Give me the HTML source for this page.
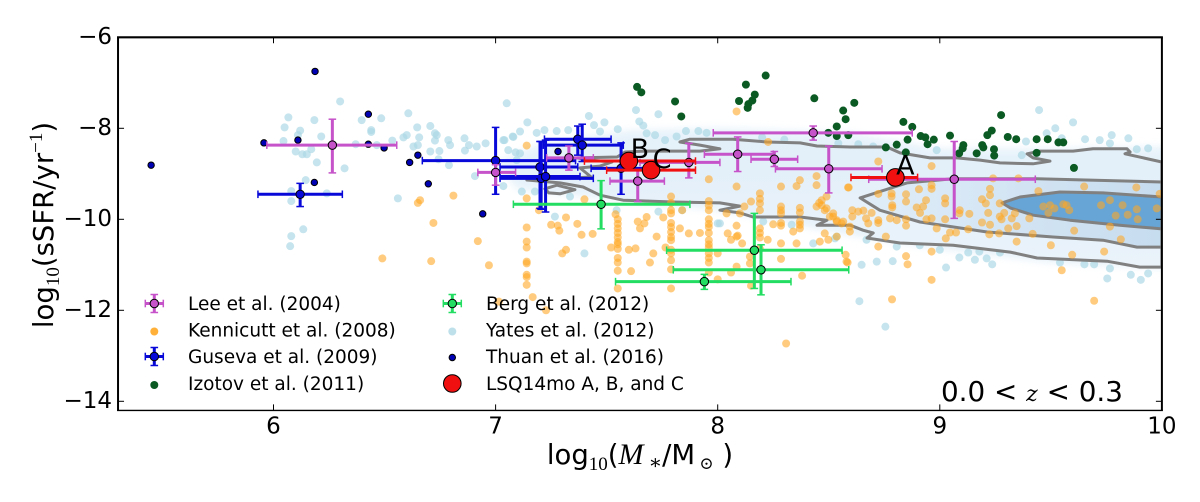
<!DOCTYPE html>
<html>
<head>
<meta charset="utf-8">
<title>sSFR vs stellar mass</title>
<style>
html,body{margin:0;padding:0;background:#fff;width:1200px;height:502px;overflow:hidden}
svg{display:block}
text{font-family:"DejaVu Sans","Liberation Sans",sans-serif;fill:#000}
.cm{font-family:"Liberation Serif","DejaVu Serif",serif}
</style>
</head>
<body>
<svg id="chart" xmlns="http://www.w3.org/2000/svg" width="1200" height="502" viewBox="0 0 1200 502">
<defs>
<clipPath id="plot-clip"><rect x="118" y="37" width="1044" height="373"/></clipPath>
<filter id="soft" x="-10%" y="-20%" width="120%" height="140%"><feGaussianBlur stdDeviation="4"/></filter>
<linearGradient id="outer-grad" x1="0" y1="0" x2="0" y2="1"><stop offset="0" stop-color="#e2eff9"/><stop offset="1" stop-color="#eaf3fa"/></linearGradient>
<linearGradient id="mid-grad" x1="0" y1="0" x2="1" y2="0"><stop offset="0" stop-color="#e0edf8"/><stop offset="1" stop-color="#c6dcef"/></linearGradient>
</defs>
<g id="marks" clip-path="url(#plot-clip)"></g>
<g id="axes"></g>
<text transform="translate(53,225) rotate(-90)" text-anchor="middle" font-size="27.5">log<tspan class="cm" font-size="19" dy="6">10</tspan><tspan dy="-6">(sSFR/yr</tspan><tspan class="cm" font-size="19" dy="-11">−1</tspan><tspan dy="11">)</tspan></text>
<text x="640" y="464" text-anchor="middle" font-size="27.5">log<tspan class="cm" font-size="19" dy="6">10</tspan><tspan dy="-6">(</tspan><tspan class="cm" font-style="italic" font-size="30">M</tspan><tspan class="cm" font-size="20" dy="5"> ∗</tspan><tspan dy="-5">/M</tspan><tspan class="cm" font-size="17" dy="5"> ⊙</tspan><tspan dy="-5"> )</tspan></text>
<text x="941" y="401" font-size="27.8">0.0 &lt; <tspan style="font-family:'DejaVu Serif','Liberation Serif',serif;font-style:italic" font-size="22">z</tspan> &lt; 0.3</text>
<g id="legend"></g>
</svg>
<script>
// ---------- axis ticks ----------
const xTicks = [6, 7, 8, 9, 10];
const yTicks = [-6, -8, -10, -12, -14];
const xLim = [5.3, 10];
const yLim = [-14.2, -6];

// ---------- contour levels (log M, log sSFR) ----------
const densityHaze = [[7.0,-8.75],[7.2,-8.35],[7.6,-8.05],[8.0,-8.0],[8.6,-8.1],[9.0,-8.45],[9.5,-8.45],[10.1,-8.4],[10.1,-11.1],[9.5,-10.95],[9,-10.65],[8.6,-10.35],[8,-9.8],[7.4,-9.5],[7.1,-9.35]];
const contourOuter = [[7.141,-9.136],[7.222,-9.07],[7.357,-9.09],[7.43,-9.07],[7.38,-8.87],[7.47,-8.83],[7.524,-8.74],[7.425,-8.70],[7.367,-8.65],[7.547,-8.63],[7.583,-8.52],[7.673,-8.50],[7.92,-8.50],[8.01,-8.45],[7.92,-8.37],[7.83,-8.30],[7.875,-8.24],[8.069,-8.24],[8.222,-8.30],[8.371,-8.32],[8.447,-8.39],[8.596,-8.41],[8.654,-8.41],[8.762,-8.41],[8.821,-8.54],[8.956,-8.65],[9.077,-8.65],[9.181,-8.70],[9.271,-8.76],[9.42,-8.78],[9.496,-8.72],[9.42,-8.65],[9.393,-8.56],[9.451,-8.50],[9.6,-8.50],[9.69,-8.45],[9.843,-8.45],[9.857,-8.52],[9.834,-8.56],[10,-8.74],[10,-11.05],[9.90,-11.05],[9.753,-10.92],[9.438,-10.85],[9.317,-10.72],[9.06,-10.57],[8.821,-10.52],[8.672,-10.41],[8.70,-10.30],[8.654,-10.24],[8.596,-10.13],[8.447,-10.13],[8.492,-10.02],[8.371,-9.95],[8.159,-9.95],[8.10,-9.86],[8.01,-9.80],[8.10,-9.71],[8.01,-9.64],[7.799,-9.62],[7.574,-9.58],[7.47,-9.47],[7.394,-9.29],[7.29,-9.20]];
const contourIsland = [[7.222,-9.33],[7.276,-9.25],[7.357,-9.35],[7.29,-9.44],[7.24,-9.42]];
const contourMiddle = [[8.641,-9.53],[8.852,-9.2],[9.06,-9.11],[9.438,-9.11],[10,-9.18],[10,-10.61],[9.888,-10.61],[9.735,-10.46],[9.51,-10.39],[9.213,-10.28],[8.911,-10.06],[8.73,-9.8]];
const contourInner = [[9.28,-9.64],[9.361,-9.51],[9.541,-9.40],[9.735,-9.42],[10,-9.51],[10,-10.21],[9.811,-10.13],[9.586,-10.02],[9.42,-9.91],[9.317,-9.75]];

// ---------- scatter series (log M, log sSFR) ----------
const yatesPoints = [[6.30,-7.41],[6.067,-7.76],[6.184,-7.82],[6.05,-7.98],[6.12,-8.05],[6.397,-7.82],[6.485,-7.78],[6.44,-8.04],[6.44,-8.08],[6.215,-8.18],[6.11,-8.15],[6.045,-8.28],[6.10,-8.51],[6.13,-8.57],[6.15,-8.57],[6.17,-8.46],[6.195,-8.75],[6.32,-8.88],[6.37,-8.35],[6.465,-8.37],[6.535,-8.27],[6.585,-8.2],[6.6,-8.15],[6.607,-7.67],[6.647,-7.98],[6.706,-7.95],[6.656,-8.2],[6.63,-8.4],[6.65,-8.37],[6.727,-8.11],[6.735,-8.15],[6.727,-8.27],[6.787,-8.26],[6.795,-8.37],[6.706,-8.51],[6.747,-8.5],[6.743,-8.68],[6.79,-8.81],[6.86,-8.22],[6.862,-8.49],[6.88,-8.37],[6.915,-8.4],[6.955,-8.33],[7.05,-7.45],[7.035,-8.26],[7.077,-8.18],[7.057,-8.48],[7.09,-8.53],[6.907,-9.05],[7.035,-9.27],[6.56,-9.54],[6.145,-9.14],[6.08,-9.38],[6.24,-9.43],[6.08,-9.6],[6.134,-10.22],[6.08,-10.37],[6.075,-10.59],[7.143,-7.87],[7.04,-8.26],[7.08,-8.19],[7.11,-8.07],[7.185,-8.1],[7.22,-8.04],[7.275,-8.06],[7.327,-8.04],[7.42,-7.73],[7.443,-7.93],[7.49,-7.87],[7.47,-8.07],[7.55,-8.02],[7.632,-7.6],[7.733,-7.69],[7.647,-7.85],[7.665,-7.94],[7.68,-8.11],[7.718,-8.15],[7.815,-8.18],[7.763,-8.26],[7.857,-8.06],[7.913,-8.06],[7.11,-8.55],[7.095,-8.7],[7.118,-9.39],[7.177,-9.39],[7.335,-9.5],[7.267,-9.94],[7.545,-9.8],[7.733,-9.83],[7.84,-9.8],[8.0,-10.09],[7.4,-10.75],[8.01,-10.09],[8.205,-10.05],[8.333,-10.12],[8.43,-10.53],[8.528,-10.42],[9.447,-7.6],[9.6,-7.87],[9.52,-8.0],[9.481,-8.11],[9.549,-8.22],[9.654,-8.24],[9.849,-8.22],[9.774,-8.15],[9.72,-8.26],[9.766,-8.33],[9.938,-8.44],[9.887,-8.46],[9.388,-8.29],[8.986,-8.48],[9.369,-8.59],[8.633,-8.35],[8.543,-8.33],[8.648,-11.0],[8.716,-10.93],[8.788,-10.92],[9.028,-11.06],[9.088,-10.84],[9.158,-10.89],[9.211,-10.86],[9.236,-10.99],[9.128,-10.73],[9.178,-10.71],[9.271,-10.73],[9.0,-10.67],[9.541,-10.95],[9.651,-10.99],[9.695,-10.99],[9.766,-11.08],[9.754,-11.3],[9.86,-11.22],[9.905,-11.33],[9.938,-11.19],[8.638,-11.8],[8.755,-12.36],[8.536,-10.38],[8.67,-10.45],[8.806,-10.6],[8.91,-10.57],[7.95,-8.1],[8.2,-8.2],[8.3,-8.25],[8.7,-8.4]];

const kennicuttPoints = [[6.66,-9.58],[6.65,-9.64],[6.81,-9.48],[6.72,-10.08],[6.92,-10.48],[6.49,-10.86],[6.71,-10.92],[6.97,-11.01],[7.015,-11.81],[7.167,-11.71],[7.227,-12.0],[8.308,-12.73],[7.14,-10.18],[7.14,-10.49],[7.14,-10.62],[7.14,-10.93],[7.14,-10.97],[7.14,-11.22],[7.14,-11.27],[7.14,-11.44],[7.14,-8.38],[7.14,-9.54],[7.195,-9.8],[7.40,-9.56],[7.317,-9.96],[7.25,-10.12],[7.28,-10.14],[7.287,-10.25],[7.368,-10.10],[7.387,-10.34],[7.437,-10.32],[7.30,-10.75],[7.317,-10.67],[7.54,-9.89],[7.55,-10.0],[7.55,-10.1],[7.55,-10.2],[7.55,-10.3],[7.55,-10.4],[7.55,-10.5],[7.55,-10.55],[7.55,-10.65],[7.55,-10.85],[7.55,-10.95],[7.55,-11.13],[7.55,-11.52],[7.52,-10.62],[7.60,-10.67],[7.63,-10.64],[7.61,-11.14],[7.64,-10.05],[7.67,-10.09],[7.65,-10.2],[7.68,-9.95],[7.725,-10.38],[7.71,-10.75],[7.695,-10.95],[7.755,-9.96],[7.765,-10.62],[7.79,-9.5],[7.79,-9.64],[7.79,-9.8],[7.79,-9.87],[7.79,-10.08],[7.79,-10.17],[7.79,-10.28],[7.79,-10.39],[7.79,-10.46],[7.79,-10.67],[7.79,-10.75],[7.79,-10.9],[7.79,-11.1],[7.79,-11.52],[7.84,-9.8],[7.83,-10.2],[7.87,-10.31],[7.92,-10.3],[7.96,-9.6],[7.96,-9.7],[7.96,-9.8],[7.96,-10.0],[7.96,-10.1],[7.96,-10.17],[7.96,-10.3],[7.96,-10.46],[7.96,-10.55],[7.96,-10.62],[7.96,-10.75],[7.96,-10.85],[7.96,-10.95],[7.96,-11.17],[7.96,-9.12],[8.085,-9.28],[8.085,-7.63],[8.0,-10.75],[8.0,-11.32],[8.06,-11.17],[8.085,-11.04],[8.045,-10.31],[8.06,-10.45],[8.085,-10.38],[8.09,-10.36],[8.11,-10.53],[8.085,-10.14],[8.04,-9.87],[8.1,-9.87],[8.145,-10.82],[8.145,-10.97],[8.15,-11.46],[8.15,-9.61],[8.12,-9.72],[8.19,-9.43],[8.19,-9.55],[8.19,-9.65],[8.19,-9.8],[8.19,-10.2],[8.19,-10.3],[8.19,-10.4],[8.19,-10.65],[8.225,-10.45],[8.25,-10.11],[8.285,-10.53],[8.285,-10.87],[8.285,-9.72],[8.285,-9.8],[8.285,-9.87],[8.285,-10.08],[8.285,-10.14],[8.34,-10.27],[8.38,-11.24],[8.37,-9.75],[8.37,-9.85],[8.37,-10.05],[8.37,-10.12],[8.37,-10.2],[8.355,-10.53],[8.457,-9.64],[8.445,-9.72],[8.468,-9.58],[8.482,-9.8],[8.52,-9.87],[8.505,-9.94],[8.536,-10.05],[8.565,-10.05],[8.482,-10.31],[8.46,-10.49],[8.498,-10.45],[8.536,-10.38],[8.58,-10.93],[8.445,-9.05],[8.445,-9.25],[8.37,-9.14],[8.355,-9.27],[8.285,-9.28],[8.227,-8.3],[8.587,-9.3],[8.723,-8.73],[8.963,-8.83],[8.59,-9.3],[8.906,-9.34],[8.963,-9.25],[8.963,-9.33],[8.783,-9.43],[8.723,-9.44],[8.848,-9.45],[8.938,-9.58],[8.783,-9.5],[8.848,-9.61],[8.786,-9.69],[8.786,-9.74],[8.896,-9.74],[8.911,-9.86],[8.925,-9.72],[9.024,-9.54],[9.024,-9.65],[9.226,-9.33],[9.226,-9.47],[9.19,-9.56],[9.207,-9.65],[9.27,-9.65],[9.218,-9.86],[9.09,-9.8],[9.088,-9.87],[9.133,-9.88],[9.29,-9.86],[9.27,-9.94],[9.278,-10.0],[9.324,-9.98],[9.403,-9.98],[9.338,-9.87],[9.444,-9.38],[9.65,-9.28],[9.885,-9.3],[9.354,-9.1],[9.24,-9.1],[9.466,-9.72],[9.496,-9.69],[9.516,-9.76],[9.489,-9.86],[9.556,-9.67],[9.571,-9.69],[9.583,-9.8],[9.726,-9.69],[9.766,-9.58],[9.792,-9.92],[9.823,-9.69],[9.846,-9.9],[9.887,-9.78],[9.891,-10.0],[9.977,-9.76],[9.99,-9.44],[9.19,-10.07],[9.226,-10.12],[9.128,-10.22],[8.986,-10.2],[9.024,-10.0],[8.963,-9.98],[8.94,-10.0],[8.848,-10.0],[8.848,-10.14],[8.806,-10.02],[8.776,-9.98],[8.723,-10.02],[8.723,-10.08],[8.678,-10.09],[8.668,-9.98],[8.693,-9.86],[8.656,-9.81],[8.633,-9.83],[8.606,-9.8],[8.606,-9.94],[8.52,-9.94],[8.49,-9.5],[8.468,-9.69],[8.49,-9.76],[8.536,-10.02],[8.558,-10.09],[8.595,-10.16],[8.595,-10.27],[8.757,-10.38],[8.723,-10.6],[9.027,-10.42],[9.046,-10.29],[9.073,-10.29],[9.223,-10.33],[9.267,-10.31],[9.308,-10.2],[9.346,-10.15],[9.346,-10.49],[9.418,-10.32],[9.605,-10.25],[9.766,-10.16],[9.815,-10.44],[9.5,-10.57],[9.596,-10.78],[9.74,-10.71],[8.963,-10.71],[8.848,-10.81],[8.855,-10.99],[8.576,-10.78],[8.585,-10.95],[9.549,-11.12],[8.963,-11.33],[8.785,-11.76],[9.695,-11.79]];

const izotovPoints = [[7.637,-7.09],[7.656,-7.21],[7.808,-7.41],[7.836,-7.74],[8.127,-7.04],[8.216,-6.84],[8.167,-7.26],[8.096,-7.40],[8.156,-7.39],[8.138,-7.47],[8.135,-7.55],[8.435,-7.34],[8.565,-7.61],[8.576,-7.80],[8.536,-7.96],[8.498,-8.10],[8.536,-8.17],[8.588,-8.15],[8.615,-7.44],[8.836,-7.86],[8.876,-7.97],[8.855,-8.25],[8.806,-8.36],[8.757,-8.42],[8.847,-8.53],[8.914,-8.17],[8.935,-8.20],[8.945,-8.35],[8.973,-8.25],[9.046,-8.16],[9.106,-8.37],[9.103,-8.44],[9.087,-8.55],[9.166,-8.55],[9.191,-8.37],[9.196,-8.42],[9.214,-8.15],[9.234,-8.05],[9.276,-7.71],[9.306,-8.19],[9.344,-8.24],[9.244,-8.46],[9.245,-8.60],[9.436,-8.24],[9.486,-8.24],[9.534,-8.31],[9.556,-8.31],[9.436,-8.54],[9.604,-8.87]];

const thuanPoints = [[5.449,-8.81],[6.187,-6.75],[6.427,-7.69],[5.957,-8.32],[6.11,-8.26],[6.427,-8.35],[6.498,-8.43],[6.184,-9.19],[6.65,-8.59],[6.613,-8.75],[6.697,-9.22],[6.942,-9.88],[7.281,-8.51]];

// ---------- error-bar series: [x, y, xLow, xHigh, yLow, yHigh] ----------
const leeBars = [[6.265,-8.37,5.97,6.555,-8.98,-7.8],[7.0,-8.97,6.92,7.09,-9.25,-8.8],[7.33,-8.65,7.23,7.44,-8.92,-8.39],[7.64,-9.16,7.515,7.76,-9.61,-8.92],[7.87,-8.75,7.65,8.01,-9.09,-8.33],[8.09,-8.57,7.94,8.25,-8.95,-8.19],[8.255,-8.68,8.15,8.36,-8.84,-8.51],[8.43,-8.10,7.98,8.876,-8.26,-7.95],[8.50,-8.89,8.26,8.74,-9.42,-8.39],[9.065,-9.12,8.68,9.43,-9.98,-8.29]];
const gusevaBars = [[6.12,-9.45,5.93,6.31,-9.72,-9.21],[7.0,-8.71,6.67,7.36,-9.45,-7.98],[7.2,-8.85,7.02,7.37,-9.76,-8.29],[7.205,-9.10,7.02,7.44,-9.78,-8.29],[7.225,-9.06,7.02,7.38,-9.84,-8.26],[7.37,-8.24,7.22,7.52,-8.59,-7.95],[7.39,-8.37,7.215,7.575,-8.73,-7.91],[7.565,-8.88,7.43,7.70,-9.45,-8.32]];
const bergBars = [[7.475,-9.67,7.08,7.875,-10.21,-9.15],[8.165,-10.68,7.77,8.56,-11.52,-9.87],[8.195,-11.11,7.80,8.59,-11.66,-10.56],[7.94,-11.37,7.54,8.33,-11.54,-11.21]];
const lsqBars = [[8.80,-9.08,8.60,8.90,-9.08,-9.08],[7.60,-8.72,7.40,7.90,-8.72,-8.72],[7.70,-8.92,7.50,7.90,-8.92,-8.92]];
const lsqLabels = ['A', 'B', 'C'];

// ---------- legend ----------
const legendCol1 = ['Lee et al. (2004)', 'Kennicutt et al. (2008)', 'Guseva et al. (2009)', 'Izotov et al. (2011)'];
const legendCol2 = ['Berg et al. (2012)', 'Yates et al. (2012)', 'Thuan et al. (2016)', 'LSQ14mo A, B, and C'];

const NS = 'http://www.w3.org/2000/svg';
const X = v => 273.5 + (v - 6) * 222.1;
const Y = v => 37.3 + (-6 - v) * 45.5;
const marks = document.getElementById('marks');
const axes = document.getElementById('axes');
const legend = document.getElementById('legend');

function make(tag, parent, attrs) {
  const el = document.createElementNS(NS, tag);
  for (const k in attrs) el.setAttribute(k, attrs[k]);
  parent.appendChild(el);
  return el;
}
const pathOf = pts => pts.map(p => X(p[0]).toFixed(1) + ',' + Y(p[1]).toFixed(1)).join(' ');

function drawBar(parent, b, color, lw, r) {
  const g = make('g', parent, {});
  const cap = 3.8;
  make('line', g, {x1: X(b[2]), x2: X(b[3]), y1: Y(b[1]), y2: Y(b[1]), stroke: color, 'stroke-width': lw});
  make('line', g, {x1: X(b[2]), x2: X(b[2]), y1: Y(b[1]) - cap, y2: Y(b[1]) + cap, stroke: color, 'stroke-width': 1.5});
  make('line', g, {x1: X(b[3]), x2: X(b[3]), y1: Y(b[1]) - cap, y2: Y(b[1]) + cap, stroke: color, 'stroke-width': 1.5});
  if (b[4] !== b[5]) {
    make('line', g, {x1: X(b[0]), x2: X(b[0]), y1: Y(b[4]), y2: Y(b[5]), stroke: color, 'stroke-width': lw});
    make('line', g, {x1: X(b[0]) - cap, x2: X(b[0]) + cap, y1: Y(b[4]), y2: Y(b[4]), stroke: color, 'stroke-width': 1.5});
    make('line', g, {x1: X(b[0]) - cap, x2: X(b[0]) + cap, y1: Y(b[5]), y2: Y(b[5]), stroke: color, 'stroke-width': 1.5});
  }
  make('circle', g, {cx: X(b[0]), cy: Y(b[1]), r: r, fill: color, stroke: '#000', 'stroke-width': 1});
  return g;
}

// density haze and Yates scatter
const haze = make('polygon', marks, {points: pathOf(densityHaze), fill: '#e6f2fa', filter: 'url(#soft)'});



for (const p of yatesPoints) {
  const d = make('circle', marks, {cx: X(p[0]), cy: Y(p[1]), r: 4, fill: '#add8e6', opacity: 0.7});
  
  
}

// contours
const cOuter = make('polygon', marks, {points: pathOf(contourOuter), fill: 'url(#outer-grad)', stroke: '#808080', 'stroke-width': 3, 'stroke-linejoin': 'round'});


const cIsland = make('polygon', marks, {points: pathOf(contourIsland), fill: '#e6f1fa', stroke: '#808080', 'stroke-width': 3, 'stroke-linejoin': 'round'});


const cMiddle = make('polygon', marks, {points: pathOf(contourMiddle), fill: 'url(#mid-grad)', stroke: '#808080', 'stroke-width': 3, 'stroke-linejoin': 'round'});


const cInner = make('polygon', marks, {points: pathOf(contourInner), fill: '#66a5d6', stroke: '#808080', 'stroke-width': 3, 'stroke-linejoin': 'round'});



for (const p of kennicuttPoints) {
  const d = make('circle', marks, {cx: X(p[0]), cy: Y(p[1]), r: 4, fill: '#ffa722', opacity: 0.58});
  
  
}
for (const p of izotovPoints) {
  const d = make('circle', marks, {cx: X(p[0]), cy: Y(p[1]), r: 4, fill: '#0b5a24'});
  
  
}
for (const p of thuanPoints) {
  const d = make('circle', marks, {cx: X(p[0]), cy: Y(p[1]), r: 3.2, fill: '#0000b4', stroke: '#000', 'stroke-width': 1});
  
  
}
for (const b of gusevaBars) {
  const g = drawBar(marks, b, '#0808d8', 3, 4.2);
  
  
}
for (const b of bergBars) {
  const g = drawBar(marks, b, '#22dd62', 3, 4.2);
  
  
}
for (const b of leeBars) {
  const g = drawBar(marks, b, '#c653c9', 3, 4.2);
  
  
}
lsqBars.forEach((b, i) => {
  const g = drawBar(marks, b, '#f01010', 3, 8.8);
  
  
  const t = make('text', marks, {x: X(b[0]) + [10, 11, 11][i], y: Y(b[1]) + [-3, -3, -2][i], 'text-anchor': 'middle', 'font-size': 27});
  t.textContent = lsqLabels[i];
  
  
});

// axes frame: top, left and right are heavier than the bottom in the figure
const spineTop = make('line', axes, {x1: X(xLim[0]) - 1, x2: X(xLim[1]) + 1, y1: Y(yLim[1]), y2: Y(yLim[1]), stroke: '#000', 'stroke-width': 2.2});


const spineLeft = make('line', axes, {x1: X(xLim[0]), x2: X(xLim[0]), y1: Y(yLim[1]), y2: Y(yLim[0]), stroke: '#000', 'stroke-width': 2});


const spineRight = make('line', axes, {x1: X(xLim[1]), x2: X(xLim[1]), y1: Y(yLim[1]), y2: Y(yLim[0]), stroke: '#000', 'stroke-width': 2});


const spineBottom = make('line', axes, {x1: X(xLim[0]) - 1, x2: X(xLim[1]) + 1, y1: Y(yLim[0]), y2: Y(yLim[0]), stroke: '#000', 'stroke-width': 1.4});



for (const v of xTicks) {
  if (v !== xLim[1]) {
    const t1 = make('line', axes, {x1: X(v), x2: X(v), y1: Y(yLim[0]), y2: Y(yLim[0]) - 6, stroke: '#000', 'stroke-width': 1});
    
    
    const t2 = make('line', axes, {x1: X(v), x2: X(v), y1: Y(yLim[1]), y2: Y(yLim[1]) + 6, stroke: '#000', 'stroke-width': 1});
    
    
  }
  const lbl = make('text', axes, {x: X(v), y: 433.5, 'text-anchor': 'middle', 'font-size': 23});
  lbl.textContent = String(v);
  
  
}
for (const v of yTicks) {
  if (v !== yLim[1]) {
    const t1 = make('line', axes, {x1: X(xLim[0]), x2: X(xLim[0]) + 6, y1: Y(v), y2: Y(v), stroke: '#000', 'stroke-width': 1});
    
    
    const t2 = make('line', axes, {x1: X(xLim[1]), x2: X(xLim[1]) - 6, y1: Y(v), y2: Y(v), stroke: '#000', 'stroke-width': 1});
    
    
  }
  const lbl = make('text', axes, {x: 112, y: Y(v) + 6.5, 'text-anchor': 'end', 'font-size': 23});
  lbl.textContent = '\u2212' + Math.abs(v);
  
  
}

// legend
const rowY = [303.5, 330, 356.5, 383.5];
function legendText(x, y, s) {
  const t = make('text', legend, {x: x, y: y + 6.5, 'font-size': 18.5});
  t.textContent = s;
  
  
}
function legendBar(cx, cy, color) {
  const g = make('g', legend, {});
  make('line', g, {x1: cx - 9, x2: cx + 9, y1: cy, y2: cy, stroke: color, 'stroke-width': 3});
  make('line', g, {x1: cx, x2: cx, y1: cy - 9, y2: cy + 9, stroke: color, 'stroke-width': 3});
  make('line', g, {x1: cx - 9, x2: cx - 9, y1: cy - 3.8, y2: cy + 3.8, stroke: color, 'stroke-width': 1.5});
  make('line', g, {x1: cx + 9, x2: cx + 9, y1: cy - 3.8, y2: cy + 3.8, stroke: color, 'stroke-width': 1.5});
  make('line', g, {x1: cx - 3.8, x2: cx + 3.8, y1: cy - 9, y2: cy - 9, stroke: color, 'stroke-width': 1.5});
  make('line', g, {x1: cx - 3.8, x2: cx + 3.8, y1: cy + 9, y2: cy + 9, stroke: color, 'stroke-width': 1.5});
  make('circle', g, {cx: cx, cy: cy, r: 4.2, fill: color, stroke: '#000', 'stroke-width': 1});
  return g;
}
const k1 = 154.3, k2 = 452.3, tx1 = 188, tx2 = 486;
legendCol1.forEach((s, i) => legendText(tx1, rowY[i], s));
legendCol2.forEach((s, i) => legendText(tx2, rowY[i], s));
const hLee = legendBar(k1, rowY[0], '#c653c9');


const hKen = make('circle', legend, {cx: k1, cy: rowY[1] + 1.5, r: 4, fill: '#ffa722', opacity: 0.9});


const hGus = legendBar(k1, rowY[2], '#0808d8');


const hIzo = make('circle', legend, {cx: k1, cy: rowY[3] + 1.5, r: 4, fill: '#0b5a24'});


const hBerg = legendBar(k2, rowY[0], '#22dd62');


const hYat = make('circle', legend, {cx: k2, cy: rowY[1] + 1.5, r: 4, fill: '#add8e6', opacity: 0.8});


const hThu = make('circle', legend, {cx: k2, cy: rowY[2] + 1, r: 3.2, fill: '#0000b4', stroke: '#000', 'stroke-width': 1});


const hLsq = make('circle', legend, {cx: k2, cy: rowY[3], r: 8.8, fill: '#f01010', stroke: '#000', 'stroke-width': 1});


</script>
</body>
</html>
